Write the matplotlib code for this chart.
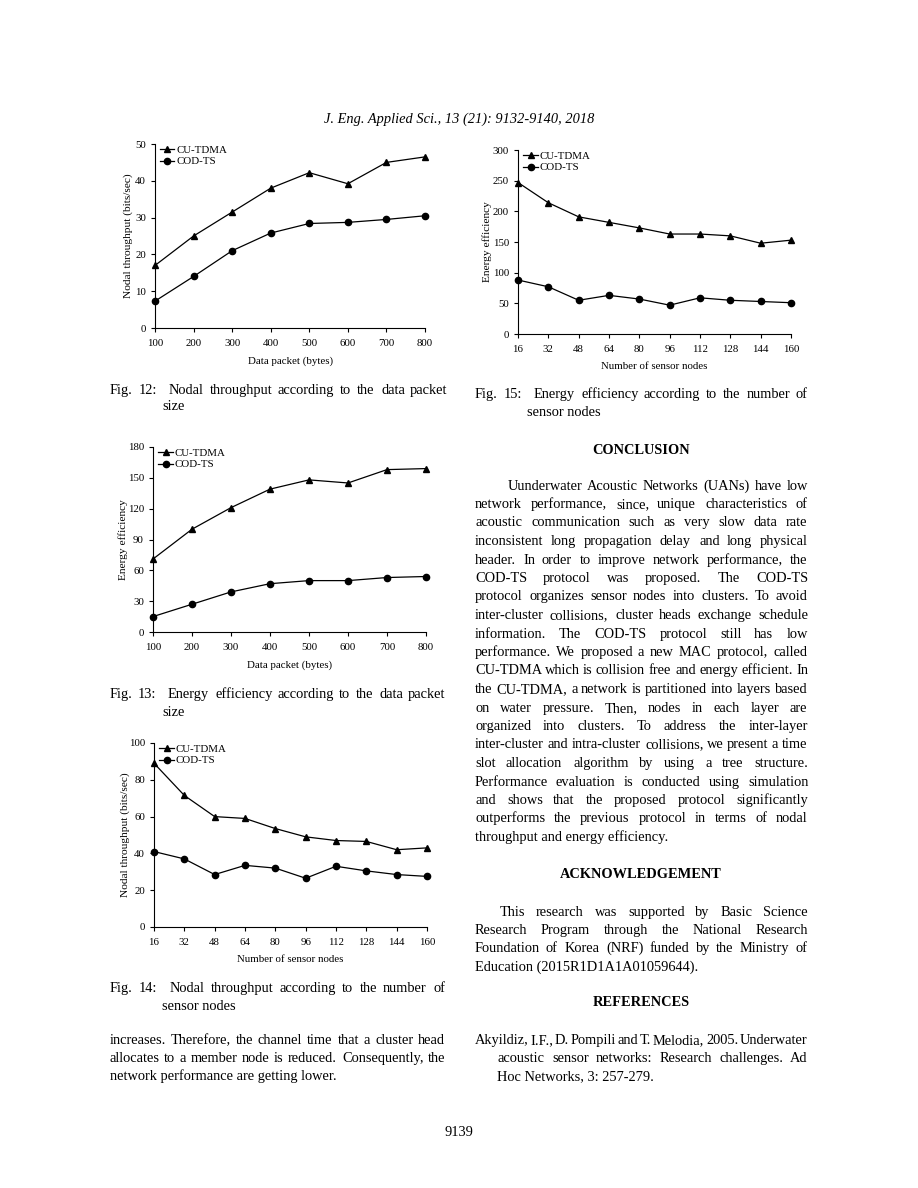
import matplotlib
matplotlib.use('Agg')
import matplotlib.pyplot as plt

# Page size in pixels (dpi 100)
W, H = 918, 1188
SERIF = ['Liberation Serif', 'DejaVu Serif']
BODY = 10.4

# Data for the four charts
packet_sizes = [100, 200, 300, 400, 500, 600, 700, 800]
sensor_nodes = [16, 32, 48, 64, 80, 96, 112, 128, 144, 160]

# Fig. 12: nodal throughput vs data packet size
thr_packet_cu = [17, 25, 31.5, 38, 42.2, 39.2, 45, 46.5]
thr_packet_cod = [7.3, 14, 21, 25.8, 28.4, 28.7, 29.5, 30.5]

# Fig. 13: energy efficiency vs data packet size
eff_packet_cu = [71, 100, 121, 139, 148, 145, 158, 159]
eff_packet_cod = [15, 27, 39, 47, 50, 50, 53, 54]

# Fig. 14: nodal throughput vs number of sensor nodes
thr_nodes_cu = [89, 71.5, 60, 59, 53.5, 49, 47, 46.5, 42, 43]
thr_nodes_cod = [41, 37, 28.5, 33.5, 32, 26.5, 33, 30.5, 28.5, 27.5]

# Fig. 15: energy efficiency vs number of sensor nodes
eff_nodes_cu = [247, 214, 191, 182, 173, 163, 163, 160, 148, 153]
eff_nodes_cod = [88, 77, 55, 63, 57, 47, 59, 55, 53, 51]

series_labels = ['CU-TDMA', 'COD-TS']

fig = plt.figure(figsize=(W / 100, H / 100), dpi=100)
renderer = fig.canvas.get_renderer()


def fx(x):
    return x / W


def fy(y):
    return 1 - y / H


# Draw one chart; box is (left, top, right, bottom) in page pixels
def draw_chart(box, x, cu, cod, ymax, ystep, ylabel, xlabel, ylab_x):
    l, t, r, b = box
    ax = fig.add_axes([fx(l), fy(b), (r - l) / W, (b - t) / H])
    ax.plot(x, cu, color='black', lw=0.9, marker='^', ms=5, clip_on=False, label=series_labels[0])
    ax.plot(x, cod, color='black', lw=0.9, marker='o', ms=4.5, clip_on=False, label=series_labels[1])
    ax.set_xlim(x[0], x[-1])
    ax.set_ylim(0, ymax)
    ax.set_xticks(x)
    ax.set_yticks(range(0, ymax + 1, ystep))
    for s in ['top', 'right']:
        ax.spines[s].set_visible(False)
    for s in ['left', 'bottom']:
        ax.spines[s].set_linewidth(0.8)
    ax.tick_params(length=3, width=0.8, labelsize=7.8)
    ax.tick_params(axis='x', pad=5)
    for lab in ax.get_xticklabels() + ax.get_yticklabels():
        lab.set_family(SERIF)
    ax.set_ylabel(ylabel, fontsize=8.2, family=SERIF)
    ax.set_xlabel(xlabel, fontsize=7.8, family=SERIF)
    # label coords: right edge of rotated y label, top of x label
    ax.yaxis.set_label_coords((ylab_x + 5 - l) / (r - l), 0.5)
    ax.xaxis.set_label_coords(0.5, -28 / (b - t))
    ax.legend(loc='upper left', bbox_to_anchor=(0.02, 0.995), frameon=False,
              prop={'family': SERIF, 'size': 7.8}, handlelength=1.3,
              handletextpad=0.2, labelspacing=0.22, borderpad=0, borderaxespad=0)
    return ax


draw_chart((155, 144, 425, 328), packet_sizes, thr_packet_cu, thr_packet_cod,
           50, 10, 'Nodal throughput (bits/sec)', 'Data packet (bytes)', 128)
draw_chart((153, 447, 426, 632), packet_sizes, eff_packet_cu, eff_packet_cod,
           180, 30, 'Energy efficiency', 'Data packet (bytes)', 123)
draw_chart((154, 743, 427, 927), sensor_nodes, thr_nodes_cu, thr_nodes_cod,
           100, 20, 'Nodal throughput (bits/sec)', 'Number of sensor nodes', 125)
draw_chart((518, 150, 791, 334), sensor_nodes, eff_nodes_cu, eff_nodes_cod,
           300, 50, 'Energy efficiency', 'Number of sensor nodes', 487)

# Scratch text used to measure string widths (removed before saving)
probe = fig.text(0, 0, '', fontsize=BODY, family=SERIF)


def width(s):
    if not s:
        return 0.0
    probe.set_text(s)
    return probe.get_window_extent(renderer).width


# One line of text (y is its middle), optionally justified between x0 and x1
def text_line(x0, x1, y, s, size=BODY, justify=True, **kw):
    # baseline snapped to a whole pixel so words on a line do not jitter
    base = fy(round(y + 3.5))
    if not justify:
        fig.text(fx(x0), base, s, fontsize=size, family=SERIF, va='baseline', **kw)
        return
    words = s.split(' ')
    probe.set_fontsize(size)
    extra = (x1 - x0 - width(s)) / max(len(words) - 1, 1)
    for i, w in enumerate(words):
        if not w:
            continue
        # natural start of this word plus the extra justification space
        start = x0 + width(' '.join(words[:i + 1])) - width(w) + extra * i
        fig.text(fx(round(start)), base, w, fontsize=size, family=SERIF, va='baseline', **kw)


# Paragraph: list of lines, first line indented, last line left aligned
def paragraph(x0, x1, y0, lines, indent=0, step=18.5):
    for i, s in enumerate(lines):
        start = x0 + (indent if i == 0 else 0)
        text_line(start, x1, y0 + i * step, s, justify=(i < len(lines) - 1))


def heading(xc, y, s):
    fig.text(fx(xc), fy(y), s, fontsize=BODY, family=SERIF, weight='bold', ha='center', va='center')


# Running header and page number
fig.text(fx(459), fy(119), 'J. Eng. Applied Sci., 13 (21): 9132-9140, 2018',
         fontsize=BODY, family=SERIF, style='italic', ha='center', va='center')
fig.text(fx(459), fy(1133), '9139', fontsize=BODY, family=SERIF, ha='center', va='center')

# Figure captions
text_line(110, 448, 390, 'Fig. 12:  Nodal throughput according to the data packet')
text_line(162, 448, 407, 'size', justify=False)
text_line(110, 446, 695, 'Fig. 13:  Energy efficiency according to the data packet')
text_line(162, 446, 713, 'size', justify=False)
text_line(110, 445, 988, 'Fig. 14:  Nodal throughput according to the number of')
text_line(162, 445, 1006, 'sensor nodes', justify=False)
text_line(475, 808, 395, 'Fig. 15:  Energy efficiency according to the number of')
text_line(527, 808, 412, 'sensor nodes', justify=False)

# Left column body text
paragraph(110, 445, 1040, [
    'increases. Therefore, the channel time that a cluster head',
    'allocates to a member node is reduced. Consequently, the',
    'network performance are getting lower.',
])

# Right column
heading(641, 450, 'CONCLUSION')
paragraph(475, 808, 486, [
    'Uunderwater Acoustic Networks (UANs) have low',
    'network performance, since, unique characteristics of',
    'acoustic communication such as very slow data rate',
    'inconsistent long propagation delay and long physical',
    'header. In order to improve network performance, the',
    'COD-TS protocol was proposed. The COD-TS',
    'protocol organizes sensor nodes into clusters. To avoid',
    'inter-cluster collisions, cluster heads exchange schedule',
    'information. The COD-TS protocol still has low',
    'performance. We proposed a new MAC protocol, called',
    'CU-TDMA which is collision free and energy efficient. In',
    'the CU-TDMA, a network is partitioned into layers based',
    'on water pressure. Then, nodes in each layer are',
    'organized into clusters. To address the inter-layer',
    'inter-cluster and intra-cluster collisions, we present a time',
    'slot allocation algorithm by using a tree structure.',
    'Performance evaluation is conducted using simulation',
    'and shows that the proposed protocol significantly',
    'outperforms the previous protocol in terms of nodal',
    'throughput and energy efficiency.',
], indent=33)

heading(641, 875, 'ACKNOWLEDGEMENT')
paragraph(475, 808, 912, [
    'This research was supported by Basic Science',
    'Research Program through the National Research',
    'Foundation of Korea (NRF) funded by the Ministry of',
    'Education (2015R1D1A1A01059644).',
], indent=25)

heading(641, 1003, 'REFERENCES')
text_line(475, 808, 1040, 'Akyildiz, I.F., D. Pompili and T. Melodia, 2005. Underwater')
text_line(497, 808, 1058.5, 'acoustic sensor networks: Research challenges. Ad')
text_line(497, 808, 1077, 'Hoc Networks, 3: 257-279.', justify=False)

probe.remove()
fig.savefig('out.png', dpi=100)
